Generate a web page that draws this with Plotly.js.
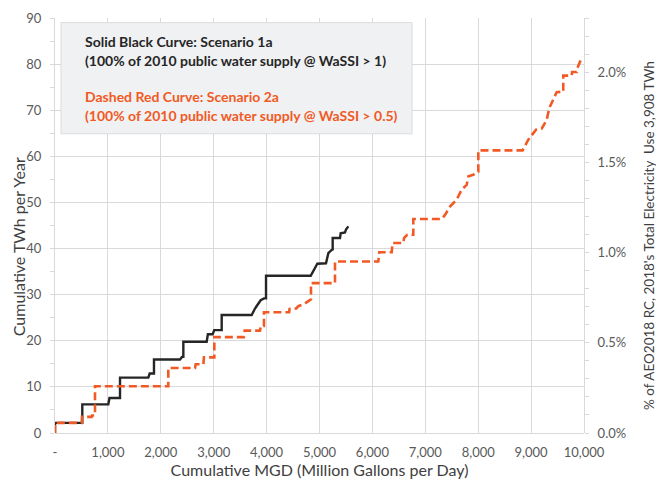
<!DOCTYPE html>
<html>
<head>
<meta charset="utf-8">
<script src="https://cdn.plot.ly/plotly-3.0.1.min.js"></script>
<style>html,body{margin:0;padding:0;background:#fff;}#chart{width:656px;height:479px;}</style>
</head>
<body>
<div id="chart"></div>
<script>
// Scenario 1a (solid black): cumulative MGD vs cumulative TWh/yr
const blackX = [0, 0, 516, 516, 1008, 1030, 1229, 1229, 1764, 1790, 1871, 1871, 2363, 2400, 2426, 2426, 2867, 2890, 2980, 3010, 3151, 3151, 3718, 3781, 3888, 3951, 3989, 3989, 4834, 4871, 4915, 4959, 5123, 5167, 5230, 5249, 5249, 5388, 5400, 5482, 5501, 5545];
const blackY = [0, 2.2, 2.2, 6.2, 6.2, 7.6, 7.6, 12.0, 12.0, 12.9, 12.9, 15.95, 15.95, 16.5, 16.5, 19.8, 19.8, 21.4, 21.4, 22.3, 22.3, 25.6, 25.6, 27.0, 28.8, 29.2, 29.2, 34.1, 34.1, 34.8, 35.7, 36.7, 36.8, 39.0, 39.7, 39.8, 42.3, 42.3, 43.3, 43.5, 44.1, 44.8];

// Scenario 2a (dashed red)
const redX = [0, 0, 504, 510, 693, 700, 756, 756, 2142, 2142, 2647, 2660, 2805, 2815, 3012, 3012, 3570, 3585, 3875, 3890, 3950, 3950, 4425, 4435, 4560, 4600, 4726, 4820, 4839, 4839, 5293, 5293, 6112, 6130, 6365, 6380, 6584, 6600, 6660, 6773, 6773, 7310, 7372, 7467, 7593, 7688, 7782, 7815, 7907, 7990, 8002, 8002, 8840, 8947, 9093, 9200, 9294, 9345, 9420, 9483, 9578, 9608, 9608, 9767, 9775, 9861, 9870, 9956];
const redY = [0, 2.2, 2.2, 3.5, 3.5, 3.8, 3.8, 10.15, 10.15, 14.1, 14.1, 14.9, 14.9, 16.4, 16.4, 20.8, 20.8, 22.2, 22.2, 23.2, 23.2, 26.2, 26.2, 26.9, 27.0, 27.5, 28.1, 29.0, 29.0, 32.5, 32.5, 37.2, 37.2, 39.2, 39.2, 41.2, 41.2, 42.3, 43.0, 43.0, 46.4, 46.4, 47.3, 49.1, 50.6, 52.8, 53.8, 55.7, 56.0, 56.7, 56.7, 61.3, 61.3, 63.6, 65.8, 66.0, 67.9, 70.5, 72.3, 73.9, 74.0, 74.0, 77.5, 77.5, 78.3, 78.3, 79.0, 81.4];

const xTickVals = [0, 1000, 2000, 3000, 4000, 5000, 6000, 7000, 8000, 9000, 10000];
const xTickText = ['-', '1,000', '2,000', '3,000', '4,000', '5,000', '6,000', '7,000', '8,000', '9,000', '10,000'];
const yMax = 90;
const xMax = 10000;
const totalTWh = 3908;

const legendLines = [
  'Solid Black Curve: Scenario 1a',
  '(100% of 2010 public water supply @ WaSSI > 1)',
  'Dashed Red Curve: Scenario 2a',
  '(100% of 2010 public water supply @ WaSSI > 0.5)'
];
const xTitle = 'Cumulative MGD (Million Gallons per Day)';
const yTitle = 'Cumulative TWh per Year';
const y2Title = '% of AEO2018 RC, 2018\'s Total Electricity  Use 3,908 TWh';

const BLACK = '#262626';
const RED = '#f15a24';
const GRID = '#d9d9d9';
const FONT = 'Lato, "Open Sans", sans-serif';

const traces = [
  {x: blackX, y: blackY, type: 'scatter', mode: 'lines', line: {color: BLACK, width: 2.4}, hoverinfo: 'x+y', showlegend: false},
  {x: redX, y: redY, type: 'scatter', mode: 'lines', line: {color: RED, width: 2.6, dash: '8px,4px'}, hoverinfo: 'x+y', showlegend: false},
  // same red series expressed as share of total electricity use, drawn invisibly on the right axis
  {x: redX, y: redY.map(v => v / totalTWh), yaxis: 'y2', type: 'scatter', mode: 'lines', line: {color: 'rgba(0,0,0,0)', width: 0}, hoverinfo: 'skip', showlegend: false}
];

const legendYs = [0.9445, 0.8977, 0.8108, 0.765];
const legendColors = [BLACK, BLACK, RED, RED];
const annotations = legendLines.map((t, i) => ({
  xref: 'paper', yref: 'paper', x: 0.053, y: legendYs[i], xanchor: 'left', yanchor: 'middle',
  text: '<b>' + t.replace(/>/g, '&gt;') + '</b>', showarrow: false,
  font: {family: FONT, size: 14, color: legendColors[i]}
}));
annotations.push({
  xref: 'paper', yref: 'paper', x: -0.07, y: 0.45, xanchor: 'center', yanchor: 'middle', textangle: -90,
  text: yTitle, showarrow: false, font: {family: FONT, size: 16, color: '#404040'}
});
annotations.push({
  xref: 'paper', yref: 'paper', x: 1.123, y: 0.475, xanchor: 'center', yanchor: 'middle', textangle: -90,
  text: y2Title, showarrow: false, font: {family: FONT, size: 13.5, color: '#404040'}
});

const layout = {
  width: 656, height: 479,
  margin: {l: 55, r: 72, t: 18, b: 46},
  paper_bgcolor: '#ffffff', plot_bgcolor: '#ffffff',
  font: {family: FONT, color: '#595959', size: 13},
  showlegend: false,
  xaxis: {
    range: [0, xMax], tickmode: 'array', tickvals: xTickVals, ticktext: xTickText,
    showgrid: true, gridcolor: GRID, gridwidth: 1, zeroline: false, showline: false,
    ticks: '', ticklabelstandoff: 10, tickfont: {family: FONT, size: 13, color: '#595959'},
    title: {text: xTitle, font: {family: FONT, size: 16, color: '#404040'}, standoff: 9}
  },
  yaxis: {
    range: [0, yMax], dtick: 10, showgrid: true, gridcolor: GRID, gridwidth: 1,
    zeroline: true, zerolinecolor: GRID, zerolinewidth: 1,
    showline: true, linecolor: GRID, linewidth: 1,
    ticks: 'outside', ticklen: 4, tickcolor: GRID, ticklabelstandoff: 6,
    minor: {dtick: 5, ticks: 'outside', ticklen: 4, tickcolor: GRID, showgrid: false},
    tickfont: {family: FONT, size: 13, color: '#595959'}
  },
  yaxis2: {
    overlaying: 'y', side: 'right', range: [0, yMax / totalTWh], dtick: 0.005, tickformat: '.1%',
    showgrid: false, zeroline: false, showline: true, linecolor: GRID, linewidth: 1,
    ticks: 'outside', ticklen: 4, tickcolor: GRID, ticklabelstandoff: 6,
    minor: {dtick: 0.001, ticks: 'outside', ticklen: 4, tickcolor: GRID, showgrid: false},
    tickfont: {family: FONT, size: 13, color: '#595959'}
  },
  shapes: [{
    type: 'rect', xref: 'paper', yref: 'paper', x0: 0.0113, x1: 0.675, y0: 0.721, y1: 0.989,
    fillcolor: '#f0f1f3', line: {color: '#dcdcdc', width: 1}, layer: 'above'
  }],
  annotations: annotations
};

Plotly.newPlot('chart', traces, layout, {staticPlot: true});
</script>
</body>
</html>
